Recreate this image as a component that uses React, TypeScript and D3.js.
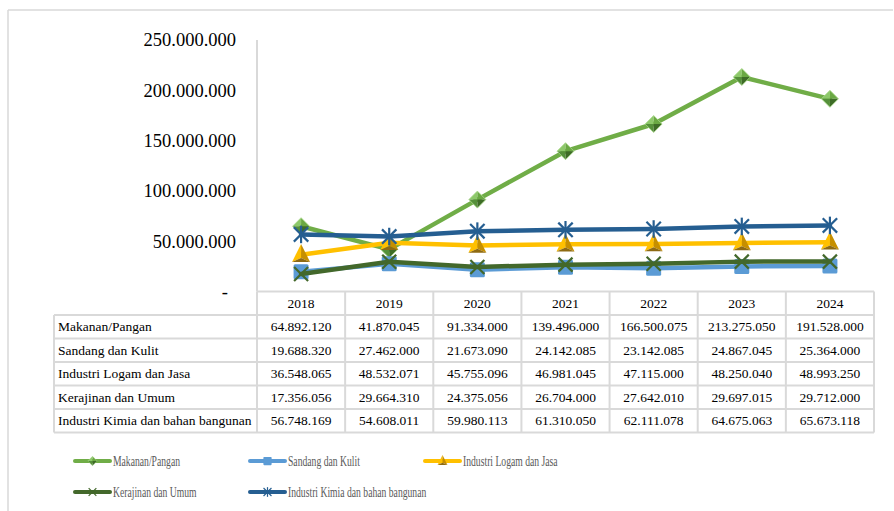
import React from "react";
import * as d3 from "d3";

const years = ["2018", "2019", "2020", "2021", "2022", "2023", "2024"];
const seriesNames = [
  "Makanan/Pangan",
  "Sandang dan Kulit",
  "Industri Logam dan Jasa",
  "Kerajinan dan Umum",
  "Industri Kimia dan bahan bangunan",
];
const makanan = [64892120, 41870045, 91334000, 139496000, 166500075, 213275050, 191528000];
const sandang = [19688320, 27462000, 21673090, 24142085, 23142085, 24867045, 25364000];
const logam = [36548065, 48532071, 45755096, 46981045, 47115000, 48250040, 48993250];
const kerajinan = [17356056, 29664310, 24375056, 26704000, 27642010, 29697015, 29712000];
const kimia = [56748169, 54608011, 59980113, 61310050, 62111078, 64675063, 65673118];
const yTicks = [0, 50000000, 100000000, 150000000, 200000000, 250000000];

const colors = ["#70AD47", "#5B9BD5", "#FFC000", "#43682B", "#255E91"];
const markers = ["diamond", "square", "triangle", "x", "star"];
const allValues = [makanan, sandang, logam, kerajinan, kimia];

const W = 894;
const H = 511;
const plotLeft = 257;
const plotRight = 874;
const plotTop = 40;
const plotBottom = 291.5;
const rowH = 23.5;
const tableLeft = 54;
const border = "#D9D9D9";
const font = '"Liberation Serif", "Times New Roman", Times, serif';

const fmt = (v: number) => {
  if (v === 0) return "-";
  return d3.format(",")(v).replace(/,/g, ".");
};

function Marker({ type, x, y, color, s = 1 }: { type: string; x: number; y: number; color: string; s?: number }) {
  if (type === "diamond") {
    const r = 8.5 * s;
    return (
      <g transform={`translate(${x},${y})`}>
        <polygon points={`0,${-r} ${-r},0 0,0`} fill="#8DC86A" />
        <polygon points={`0,${-r} ${r},0 0,0`} fill="#6AA843" />
        <polygon points={`${-r},0 0,${r} 0,0`} fill="#55903A" />
        <polygon points={`${r},0 0,${r} 0,0`} fill="#3E6C27" />
        <polygon points={`0,${-r} ${r},0 0,${r} ${-r},0`} fill="none" stroke="#A9D98A" strokeWidth={0.8 * s} />
      </g>
    );
  }
  if (type === "square") {
    const r = 7.5 * s;
    return <rect x={x - r} y={y - r} width={2 * r} height={2 * r} rx={1.5 * s} fill={color} />;
  }
  if (type === "triangle") {
    const w = 9 * s;
    const h = 18 * s;
    const top = y - h * 0.6;
    const bot = y + h * 0.4;
    return (
      <g>
        <polygon points={`${x},${top} ${x - w},${bot} ${x},${bot - 4 * s}`} fill="#FFC000" />
        <polygon points={`${x},${top} ${x + w},${bot} ${x},${bot - 4 * s}`} fill="#C68F00" />
        <polygon points={`${x - w},${bot} ${x + w},${bot} ${x},${bot - 4 * s}`} fill="#8E6A12" />
      </g>
    );
  }
  if (type === "x") {
    const r = 7 * s;
    return (
      <g stroke={color} strokeWidth={2.2 * s}>
        <line x1={x - r} y1={y - r} x2={x + r} y2={y + r} />
        <line x1={x - r} y1={y + r} x2={x + r} y2={y - r} />
      </g>
    );
  }
  const r = 8 * s;
  return (
    <g stroke={color} strokeWidth={2.2 * s}>
      <line x1={x - r * 0.9} y1={y - r * 0.9} x2={x + r * 0.9} y2={y + r * 0.9} />
      <line x1={x - r * 0.9} y1={y + r * 0.9} x2={x + r * 0.9} y2={y - r * 0.9} />
      <line x1={x} y1={y - r * 1.1} x2={x} y2={y + r * 1.1} />
    </g>
  );
}

export default function App() {
  const x = d3.scaleBand<string>().domain(years).range([plotLeft, plotRight]);
  const y = d3.scaleLinear().domain([0, 250000000]).range([plotBottom, plotTop]);
  const cx = (yr: string) => (x(yr) as number) + x.bandwidth() / 2;
  const line = d3
    .line<number>()
    .x((_, i) => cx(years[i]))
    .y((d) => y(d));

  const tableBottom = plotBottom + rowH * (seriesNames.length + 1);

  const legendPos = [
    { lx: 75, ly: 461 },
    { lx: 250, ly: 461 },
    { lx: 425, ly: 461 },
    { lx: 75, ly: 492 },
    { lx: 250, ly: 492 },
  ];

  return (
    <svg
      width={W}
      height={H}
      style={{ position: "absolute", left: 0, top: 0, background: "#fff", fontFamily: font }}
    >
      <line x1={8} y1={10} x2={893} y2={10} stroke={border} strokeWidth={1.5} />
      <line x1={8} y1={10} x2={8} y2={511} stroke={border} strokeWidth={1.5} />

      {yTicks.map((t) => (
        <text
          key={t}
          x={t === 0 ? 228 : 236}
          y={y(t)}
          dy="0.35em"
          textAnchor="end"
          fontSize={18.5}
          fill="#000"
        >
          {fmt(t)}
        </text>
      ))}

      <line x1={plotLeft} y1={plotTop} x2={plotLeft} y2={plotBottom} stroke={border} strokeWidth={2} />

      <g stroke={border} strokeWidth={2}>
        <line x1={plotLeft} y1={plotBottom} x2={plotRight} y2={plotBottom} />
        {d3.range(seriesNames.length + 1).map((i) => (
          <line
            key={"h" + i}
            x1={tableLeft}
            y1={plotBottom + rowH * (i + 1)}
            x2={plotRight}
            y2={plotBottom + rowH * (i + 1)}
          />
        ))}
        <line x1={tableLeft} y1={plotBottom + rowH} x2={tableLeft} y2={tableBottom} />
        {years.map((yr) => (
          <line key={"v" + yr} x1={x(yr)} y1={plotBottom} x2={x(yr)} y2={tableBottom} />
        ))}
        <line x1={plotRight} y1={plotBottom} x2={plotRight} y2={tableBottom} />
      </g>

      {years.map((yr) => (
        <text key={"yr" + yr} x={cx(yr)} y={plotBottom + rowH / 2} dy="0.35em" textAnchor="middle" fontSize={13.5}>
          {yr}
        </text>
      ))}

      {seriesNames.map((name, si) => {
        const ry = plotBottom + rowH * (si + 1) + rowH / 2;
        return (
          <g key={"row" + si}>
            <text x={tableLeft + 4} y={ry} dy="0.35em" fontSize={13.5}>
              {name}
            </text>
            {allValues[si].map((v, i) => (
              <text key={i} x={cx(years[i])} y={ry} dy="0.35em" textAnchor="middle" fontSize={13.5}>
                {fmt(v)}
              </text>
            ))}
          </g>
        );
      })}

      {allValues.map((vals, si) => (
        <g key={"s" + si}>
          <path
            d={line(vals) as string}
            fill="none"
            stroke={colors[si]}
            strokeWidth={4.5}
            strokeLinejoin="round"
            strokeLinecap="round"
          />
          {vals.map((v, i) => (
            <Marker key={i} type={markers[si]} x={cx(years[i])} y={y(v)} color={colors[si]} />
          ))}
        </g>
      ))}

      {seriesNames.map((name, si) => {
        const { lx, ly } = legendPos[si];
        return (
          <g key={"lg" + si}>
            <line x1={lx} y1={ly} x2={lx + 35} y2={ly} stroke={colors[si]} strokeWidth={4} strokeLinecap="round" />
            <Marker type={markers[si]} x={lx + 17.5} y={ly} color={colors[si]} s={0.55} />
            <text
              x={0}
              y={0}
              dy="0.35em"
              fontSize={14}
              fill="#595959"
              transform={`translate(${lx + 38},${ly}) scale(0.69,1)`}
            >
              {name}
            </text>
          </g>
        );
      })}
    </svg>
  );
}
